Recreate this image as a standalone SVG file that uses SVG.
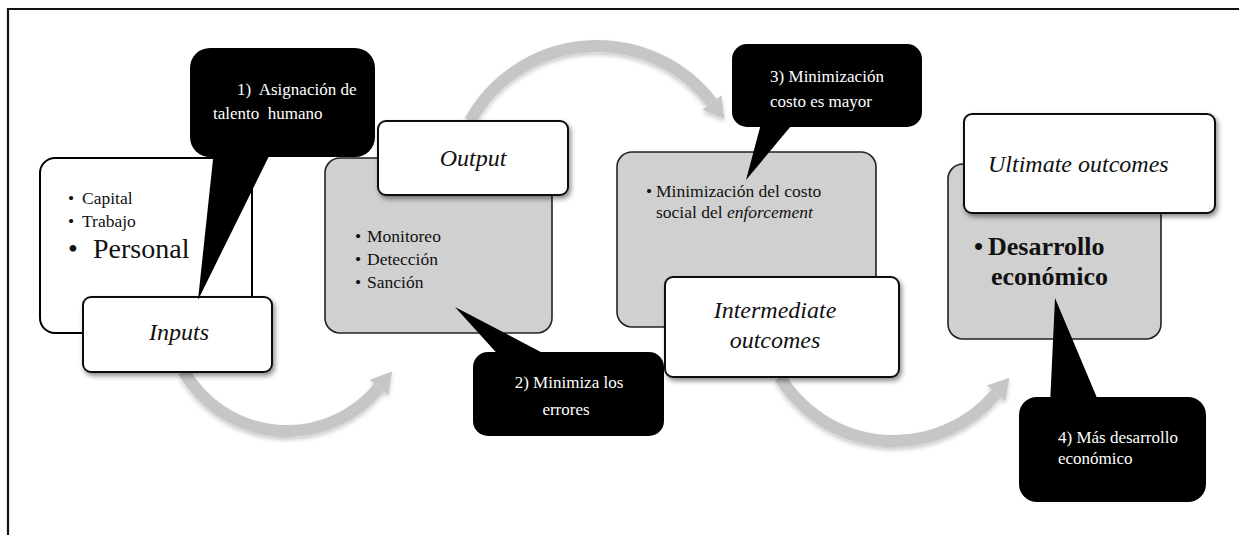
<svg xmlns="http://www.w3.org/2000/svg" width="1239" height="535" viewBox="0 0 1239 535" font-family="Liberation Serif, Times New Roman, DejaVu Serif, serif">
<style>
text{font-family:'Liberation Serif','Times New Roman',Times,'DejaVu Serif','Noto Serif',serif}
.t{fill:#111}
.w{fill:#fff;font-size:17px;white-space:pre}
.lab{font-style:italic;font-size:24px;fill:#111}
.bul{font-size:17.5px}
.back{stroke:#222;stroke-width:1.6}
.white{fill:#fff;stroke:#000;stroke-width:2}
.gray{fill:#d0d0d0}
.label{fill:#fff;stroke:#111;stroke-width:2;filter:url(#sh)}
.arc{fill:none;stroke:#c6c6c6;stroke-width:12;marker-end:url(#ah);filter:url(#ash)}
.call{fill:#000}
</style>
<defs>
<filter id="sh" x="-10%" y="-10%" width="130%" height="140%">
<feDropShadow dx="2" dy="3" stdDeviation="2.5" flood-color="#000" flood-opacity="0.45"/>
</filter>
<filter id="ash" x="-10%" y="-10%" width="130%" height="140%">
<feDropShadow dx="0" dy="3" stdDeviation="2" flood-color="#000" flood-opacity="0.2"/>
</filter>
<marker id="ah" markerUnits="strokeWidth" viewBox="0 0 1.7 2" markerWidth="1.7" markerHeight="2" refX="0" refY="1" orient="auto">
<path d="M0,0 L1.7,1 L0,2 z" fill="#c6c6c6"/>
</marker>
</defs>
<rect width="1239" height="535" fill="#fff"/>
<path d="M8,535 V9 H1239" fill="none" stroke="#111" stroke-width="2.2"/>

<g id="connectors">
<path class="arc" d="M183.9,371.5 A119,119 0 0 0 379.1,387.4"/>
<path class="arc" d="M470.1,120.9 A145,145 0 0 1 711.9,102.5"/>
<path class="arc" d="M780,377.1 A133.5,133.5 0 0 0 996.3,393.3"/>
</g>

<g id="inputs">
<rect class="white" x="40" y="158" width="212" height="175" rx="15"/>
<text class="t bul"><tspan x="68" y="204">•</tspan><tspan x="82" y="204">Capital</tspan></text>
<text class="t bul"><tspan x="68" y="227">•</tspan><tspan x="82" y="227">Trabajo</tspan></text>
<text class="t" font-size="28"><tspan x="68" y="258">•</tspan><tspan x="93" y="258">Personal</tspan></text>
<rect class="label" x="83" y="297" width="189" height="75" rx="8"/>
<text class="lab" x="179" y="340" text-anchor="middle">Inputs</text>
</g>

<g id="output">
<rect class="back gray" x="325" y="158" width="227" height="175" rx="15"/>
<text class="t bul"><tspan x="355" y="242">•</tspan><tspan x="367" y="242">Monitoreo</tspan></text>
<text class="t bul"><tspan x="355" y="265">•</tspan><tspan x="367" y="265">Detección</tspan></text>
<text class="t bul"><tspan x="355" y="288">•</tspan><tspan x="367" y="288">Sanción</tspan></text>
<rect class="label" x="378" y="121" width="190" height="74" rx="8"/>
<text class="lab" x="473" y="166" text-anchor="middle">Output</text>
</g>

<g id="intermediate">
<rect class="back gray" x="617" y="152" width="259" height="175" rx="15"/>
<text class="t bul"><tspan x="646" y="197">•</tspan><tspan x="656" y="197">Minimización del costo</tspan></text>
<text class="t bul" x="656" y="218">social del <tspan font-style="italic">enforcement</tspan></text>
<rect class="label" x="665" y="277" width="234" height="100" rx="8"/>
<text class="lab" x="775" y="318" text-anchor="middle">Intermediate</text>
<text class="lab" x="775" y="348" text-anchor="middle">outcomes</text>
</g>

<g id="ultimate">
<rect class="back gray" x="948" y="164" width="213" height="175" rx="15"/>
<text class="t" font-size="26" font-weight="bold"><tspan x="974" y="255">•</tspan><tspan x="988" y="255">Desarrollo</tspan></text>
<text class="t" font-size="26" font-weight="bold" x="991" y="285">económico</text>
<rect class="label" x="964" y="114" width="251" height="99" rx="8"/>
<text class="lab" x="988" y="172">Ultimate outcomes</text>
</g>

<g id="callout1">
<polygon class="call" points="214,150 272,150 198,300"/>
<rect class="call" x="190" y="48" width="185" height="109" rx="20"/>
<text class="w" x="237" y="95" xml:space="preserve">1)  Asignación de</text>
<text class="w" x="213" y="119" xml:space="preserve">talento  humano</text>
</g>

<g id="callout2">
<polygon class="call" points="455,307 503,360 556,360"/>
<rect class="call" x="473" y="352" width="191" height="84" rx="15"/>
<text class="w" x="569" y="388" text-anchor="middle">2) Minimiza los</text>
<text class="w" x="566" y="415" text-anchor="middle">errores</text>
</g>

<g id="callout3">
<polygon class="call" points="762,120 796,120 746,180"/>
<rect class="call" x="732" y="44" width="190" height="83" rx="15"/>
<text class="w" x="827" y="82" text-anchor="middle">3) Minimización</text>
<text class="w" x="821" y="107" text-anchor="middle">costo es mayor</text>
</g>

<g id="callout4">
<polygon class="call" points="1055,298 1050,405 1100,405"/>
<rect class="call" x="1019" y="397" width="187" height="105" rx="18"/>
<text class="w" x="1058" y="443">4) Más desarrollo</text>
<text class="w" x="1058" y="464">económico</text>
</g>
</svg>
